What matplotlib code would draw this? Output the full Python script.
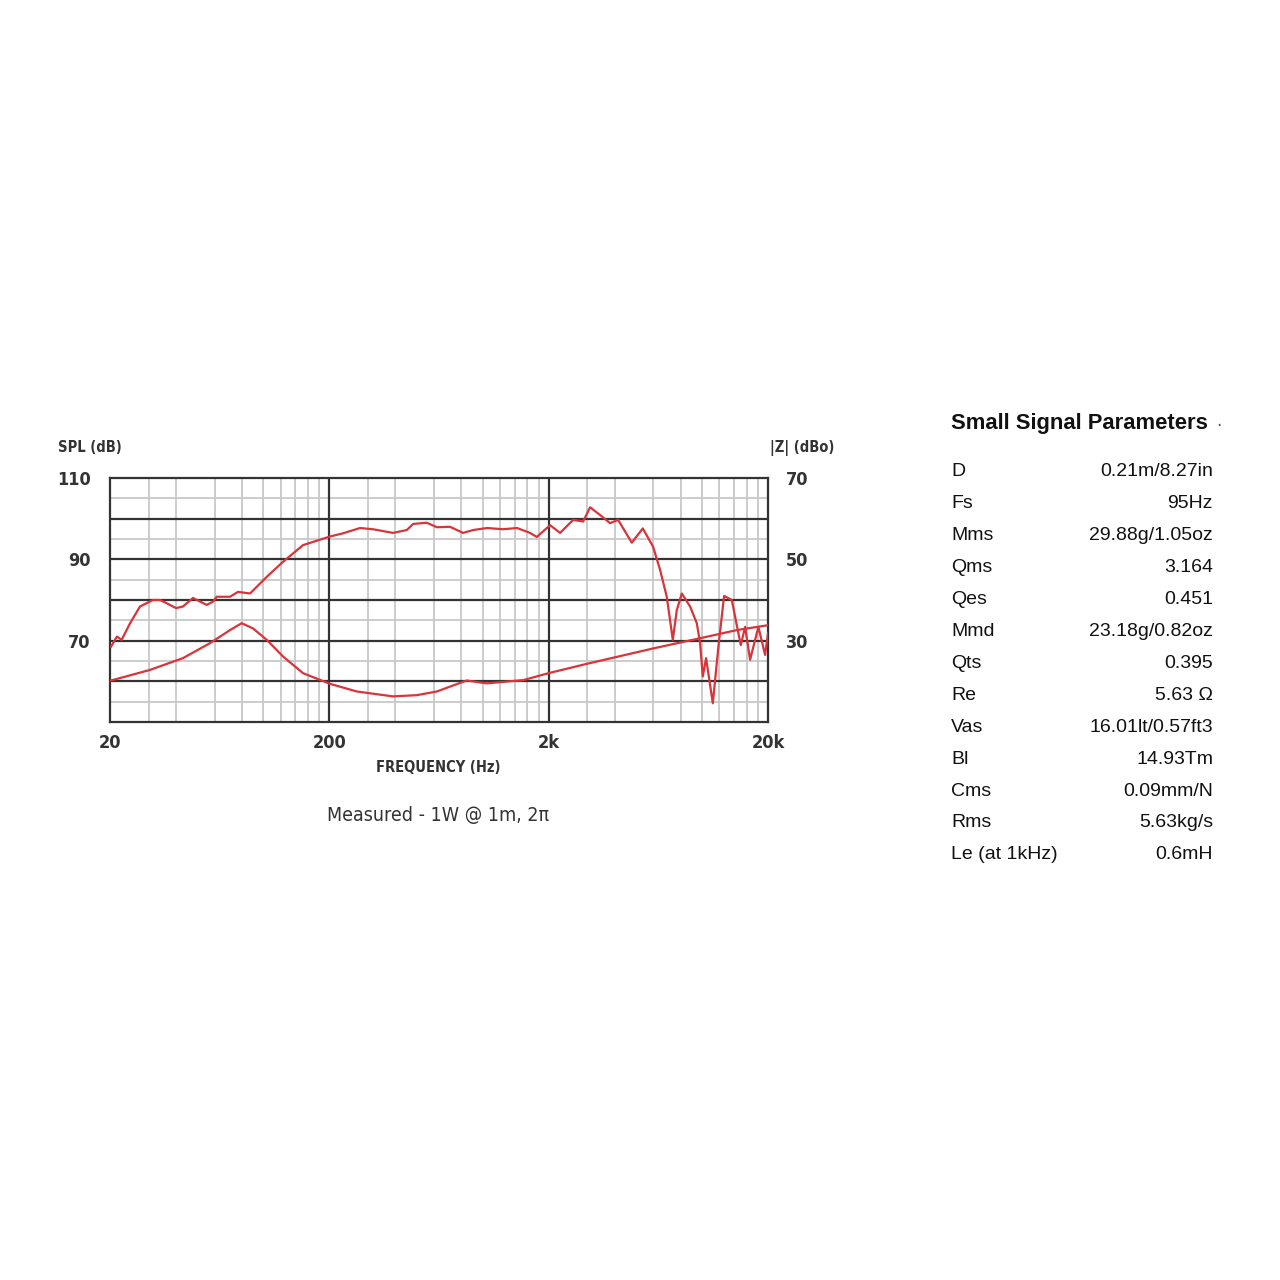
import matplotlib
matplotlib.use('Agg')
import matplotlib.pyplot as plt
from matplotlib import font_manager

# SPL response (Hz, dB)
spl_freq = [20.2, 21.5, 22.6, 24.7, 27.4, 31.4, 33.8, 36.3, 40.0, 43.0, 47.8,
            51.5, 55.2, 59.0, 61.3, 70.5, 76.7, 87.0, 103.7, 123, 151.8, 201,
            231, 276, 316, 390, 451, 482, 556, 618, 710, 814, 904, 1047,
            1239, 1435, 1645, 1766, 2030, 2254, 2586, 2871, 3090, 3431,
            3811, 4147, 4786, 5373, 5986, 6443, 6910, 7362, 7676, 8092,
            8828, 9470, 9804, 10086, 10442, 11204, 11880, 12614, 13678,
            14158, 15032, 15726, 16574, 18076, 19400, 20000]
spl_db = [68.5, 71.0, 70.2, 74.3, 78.4, 80.0, 80.0, 79.2, 78.0, 78.4, 80.5,
          79.6, 78.8, 79.6, 80.8, 80.8, 82.0, 81.6, 85.7, 89.4, 93.5, 95.6,
          96.4, 97.7, 97.4, 96.5, 97.2, 98.7, 99.0, 97.9, 98.0, 96.5, 97.2,
          97.7, 97.4, 97.7, 96.5, 95.5, 98.4, 96.5, 99.7, 99.3, 102.8,
          100.9, 98.9, 99.7, 94.1, 97.6, 93.1, 87.4, 80.8, 70.2, 77.5, 81.6,
          78.4, 74.3, 69.4, 61.2, 65.7, 54.6, 68.5, 81.0, 80.0, 75.9, 68.9,
          73.4, 65.3, 73.4, 66.5, 71.8]

# impedance curve (Hz, dB ohm)
z_freq = [20.2, 30.4, 43.0, 57.2, 70.5, 79.7, 89.8, 103.7, 123, 151.8, 201,
          267, 390, 501, 618, 710, 846, 1044, 1533, 1994, 2984, 4232, 6004,
          9804, 14412, 20000]
z_db = [20.2, 22.8, 25.7, 29.4, 32.6, 34.3, 33.0, 30.2, 26.1, 22.0, 19.4,
        17.5, 16.3, 16.6, 17.5, 18.7, 20.2, 19.5, 20.3, 22.0, 24.3, 26.2,
        28.1, 30.6, 32.6, 33.8]

x_ticks = [20, 200, 2000, 20000]
x_tick_labels = ['20', '200', '2k', '20k']
spl_ticks = [110, 90, 70]
z_ticks = [70, 50, 30]

param_names = ['D', 'Fs', 'Mms', 'Qms', 'Qes', 'Mmd', 'Qts', 'Re', 'Vas',
               'Bl', 'Cms', 'Rms', 'Le (at 1kHz)']
param_values = ['0.21m/8.27in', '95Hz', '29.88g/1.05oz', '3.164', '0.451',
                '23.18g/0.82oz', '0.395', '5.63 \u03a9', '16.01lt/0.57ft3',
                '14.93Tm', '0.09mm/N', '5.63kg/s', '0.6mH']

# narrow font for the chart labels
narrow = font_manager.FontProperties(family='DejaVu Sans', stretch='condensed',
                                     weight='bold')
narrow_reg = font_manager.FontProperties(family='DejaVu Sans', stretch='condensed')
helv = ['Liberation Sans', 'DejaVu Sans']
red = '#d8343a'
dark = '#333333'

fig = plt.figure(figsize=(12.8, 12.8), dpi=100)
ax = fig.add_axes([110 / 1280, 1 - 722 / 1280, 658 / 1280, 244 / 1280])
ax.set_xscale('log')
ax.set_xlim(20, 20000)
ax.set_ylim(50, 110)

# grid: light lines at 1.5..9 x decade and every 5 dB, dark at decades / 10 dB
for dec in [20, 200, 2000]:
    for m in [1.5, 2, 3, 4, 5, 6, 7, 8, 9]:
        ax.axvline(dec * m, color='#c8c8c8', lw=1.3, zorder=1)
for y in range(55, 110, 10):
    ax.axhline(y, color='#c8c8c8', lw=1.3, zorder=1)
for y in range(60, 110, 10):
    ax.axhline(y, color=dark, lw=1.6, zorder=2)
for x in [200, 2000]:
    ax.axvline(x, color=dark, lw=1.6, zorder=2)

ax.plot(spl_freq, spl_db, color=red, lw=1.6, zorder=3)

ax.set_xticks(x_ticks)
ax.set_xticklabels(x_tick_labels)
ax.minorticks_off()
ax.set_yticks(spl_ticks)
ax.tick_params(axis='y', length=0, colors=dark, pad=14)
ax.tick_params(axis='x', length=0, colors=dark, pad=9)
for lab in ax.get_xticklabels() + ax.get_yticklabels():
    lab.set_fontproperties(narrow)
    lab.set_fontsize(13)
for s in ax.spines.values():
    s.set_color(dark)
    s.set_linewidth(1.6)

ax2 = ax.twinx()
ax2.set_ylim(10, 70)
ax2.set_yticks(z_ticks)
ax2.tick_params(length=0, colors=dark, pad=13)
for lab in ax2.get_yticklabels():
    lab.set_fontproperties(narrow)
    lab.set_fontsize(13)
for s in ax2.spines.values():
    s.set_visible(False)
ax2.plot(z_freq, z_db, color=red, lw=1.6, zorder=3)

fig.text(58 / 1280, 1 - 448 / 1280, 'SPL (dB)', fontproperties=narrow,
         fontsize=10.5, color=dark, va='center', ha='left')
fig.text(770 / 1280, 1 - 448 / 1280, '|Z| (dBo)', fontproperties=narrow,
         fontsize=10.5, color=dark, va='center', ha='left')
fig.text(438 / 1280, 1 - 768 / 1280, 'FREQUENCY (Hz)', fontproperties=narrow,
         fontsize=10.5, color=dark, va='center', ha='center')
fig.text(438 / 1280, 1 - 816 / 1280, 'Measured - 1W @ 1m, 2\u03c0',
         fontproperties=narrow_reg, fontsize=14, color=dark, va='center',
         ha='center')

# parameter table
fig.text(951 / 1280, 1 - 424 / 1280, 'Small Signal Parameters', family=helv,
         fontsize=15.8, fontweight='bold', color='#111111', va='center',
         ha='left')
fig.text(1216 / 1280, 1 - 426 / 1280, '\u00b7', fontsize=12, color='#555555',
         va='center', ha='left')
for i, (name, val) in enumerate(zip(param_names, param_values)):
    y = 1 - (472 + i * 31.9) / 1280
    fig.text(951 / 1280, y, name, family=helv, fontsize=14, color='#111111',
             va='center', ha='left')
    fig.text(1213 / 1280, y, val, family=helv, fontsize=14, color='#111111',
             va='center', ha='right')

fig.savefig('out.png', dpi=100)
